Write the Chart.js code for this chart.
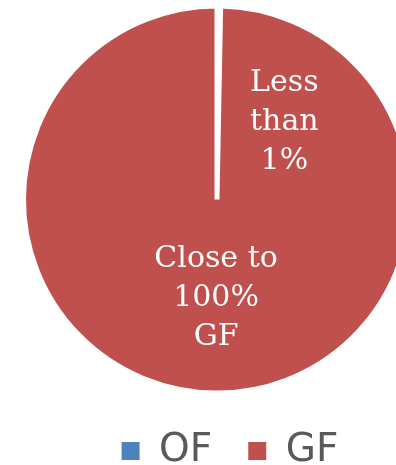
<!DOCTYPE html>
<html>
<head>
<meta charset="utf-8">
<script src="https://cdn.jsdelivr.net/npm/chart.js@4"></script>
<style>
  html, body { margin: 0; padding: 0; background: #ffffff; overflow: hidden; }
  #wrap { width: 460px; height: 465px; }
</style>
</head>
<body>
<div id="wrap"><canvas id="pie" width="460" height="465"></canvas></div>
<script>
// Share of fuel type
const categories = ['OF', 'GF'];
const shares = [0.3, 99.7];
const sliceLabels = [['Less', 'than', '1%'], ['Close to', '100%', 'GF']];
const sliceColors = ['#4F81BD', '#C0504D'];

// where each slice caption sits: angle (deg) from the slice middle, distance as a share of the radius
const captionPlacement = [
  { turn: 40.5, dist: 0.53 },
  { turn: 0, dist: 0.51 }
];

const sliceCaptions = {
  id: 'sliceCaptions',
  afterDatasetsDraw(chart) {
    const ctx = chart.ctx;
    const meta = chart.getDatasetMeta(0);
    ctx.save();
    ctx.fillStyle = '#ffffff';
    ctx.font = '30px "DejaVu Serif"';
    ctx.textAlign = 'center';
    ctx.textBaseline = 'middle';
    const lineH = 39;
    meta.data.forEach((arc, i) => {
      const p = arc.getProps(['x', 'y', 'startAngle', 'endAngle', 'outerRadius'], true);
      const mid = (p.startAngle + p.endAngle) / 2 + captionPlacement[i].turn * Math.PI / 180;
      const r = p.outerRadius * captionPlacement[i].dist;
      const cx = p.x + Math.cos(mid) * r;
      const cy = p.y + Math.sin(mid) * r;
      const lines = sliceLabels[i];
      lines.forEach((t, k) => {
        ctx.fillText(t, cx, cy + (k - (lines.length - 1) / 2) * lineH);
      });
    });
    ctx.restore();
  }
};

const defaultLabels = Chart.overrides.pie.plugins.legend.labels.generateLabels;

new Chart(document.getElementById('pie'), {
  type: 'pie',
  data: {
    labels: categories,
    datasets: [{
      data: shares,
      backgroundColor: sliceColors,
      borderColor: '#ffffff',
      borderWidth: 5
    }]
  },
  options: {
    responsive: false,
    animation: false,
    devicePixelRatio: 1,
    layout: { padding: { top: 3.5, bottom: -15.5, left: 0, right: 0 } },
    plugins: {
      tooltip: { enabled: false },
      title: {
        display: true,
        position: 'right',
        text: '',
        font: { size: 10, lineHeight: 1 },
        padding: 8
      },
      legend: {
        position: 'bottom',
        labels: {
          boxWidth: 18,
          boxHeight: 18,
          padding: 36,
          color: '#595959',
          font: { family: '"DejaVu Sans"', size: 39 },
          generateLabels(chart) {
            return defaultLabels(chart).map(item => Object.assign(item, { lineWidth: 0 }));
          }
        }
      }
    }
  },
  plugins: [sliceCaptions]
});
</script>
</body>
</html>
